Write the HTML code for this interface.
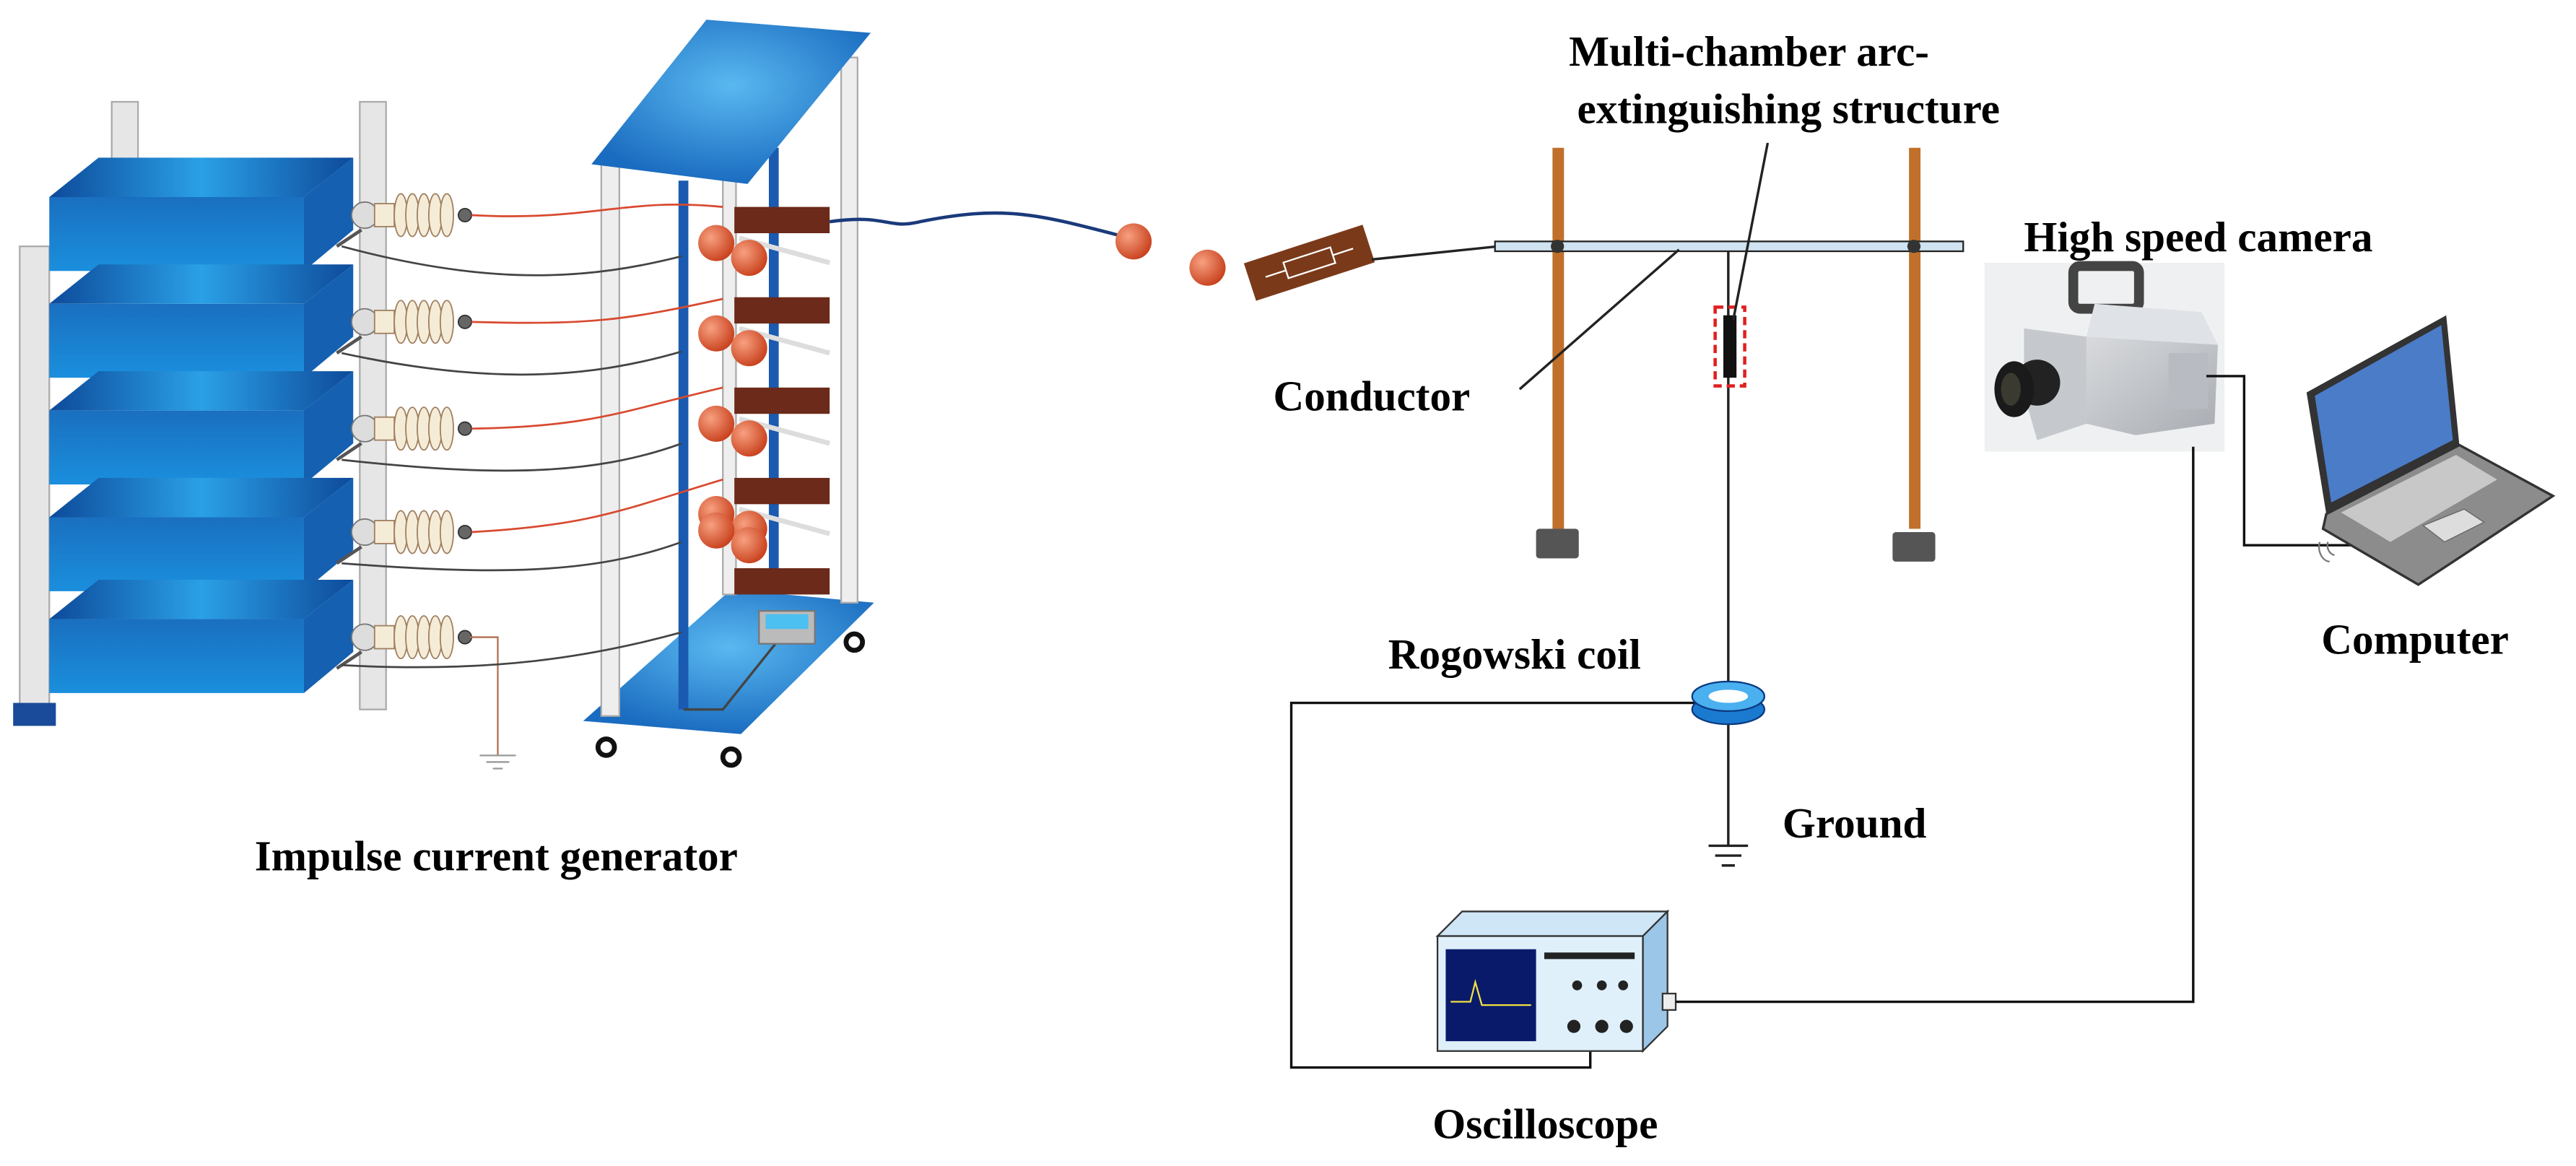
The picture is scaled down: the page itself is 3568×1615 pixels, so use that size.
<!DOCTYPE html>
<html><head><meta charset="utf-8"><style>html,body{margin:0;padding:0;background:#fff}svg{display:block}</style></head><body>
<svg width="3568" height="1615" viewBox="0 0 1568 710" preserveAspectRatio="none" xmlns="http://www.w3.org/2000/svg" font-family="Liberation Serif, serif" font-weight="bold">
<defs>
<linearGradient id="bf" x1="0" y1="0" x2="0" y2="1"><stop offset="0" stop-color="#1a6fc0"/><stop offset="1" stop-color="#1a8fdd"/></linearGradient>
<linearGradient id="bt" x1="0" y1="0" x2="1" y2="0"><stop offset="0" stop-color="#0d4a9a"/><stop offset="0.5" stop-color="#2aa0e6"/><stop offset="1" stop-color="#0d4a9a"/></linearGradient>
<radialGradient id="sp" cx="0.35" cy="0.35" r="0.7"><stop offset="0" stop-color="#f7a080"/><stop offset="1" stop-color="#c8401c"/></radialGradient>
<radialGradient id="pl" cx="0.5" cy="0.4" r="0.6"><stop offset="0" stop-color="#5ab8f0"/><stop offset="1" stop-color="#1a6cc0"/></radialGradient>
<linearGradient id="cam" x1="0" y1="0" x2="1" y2="1"><stop offset="0" stop-color="#d8dadd"/><stop offset="1" stop-color="#a8acb2"/></linearGradient>
</defs>
<!-- left stack posts -->
<rect x="12" y="150" width="18" height="285" fill="#e6e6e6" stroke="#aaa"/>
<rect x="8" y="428" width="26" height="14" fill="#1a4a9a"/>
<rect x="68" y="62" width="16" height="40" fill="#e6e6e6" stroke="#aaa"/>
<rect x="219" y="62" width="16" height="370" fill="#e6e6e6" stroke="#aaa"/>
<!-- layers -->
<g id="L">
<polygon points="30,120 60,96 215,96 185,120" fill="url(#bt)"/>
<rect x="30" y="120" width="155" height="45" fill="url(#bf)"/>
<polygon points="185,120 215,96 215,140 185,165" fill="#1560b0"/>
</g>
<use href="#L" y="65"/><use href="#L" y="130"/><use href="#L" y="195"/><use href="#L" y="257"/>
<!-- insulators -->
<g id="I" fill="#f5ecd8" stroke="#a08060" stroke-width="0.8">
<circle cx="222" cy="131" r="8" fill="#ddd" stroke="#777"/>
<rect x="228" y="124" width="12" height="14"/>
<ellipse cx="244" cy="131" rx="4" ry="13"/><ellipse cx="251" cy="131" rx="4" ry="13"/><ellipse cx="258" cy="131" rx="4" ry="13"/><ellipse cx="265" cy="131" rx="4" ry="13"/><ellipse cx="272" cy="131" rx="4" ry="13"/>
<circle cx="283" cy="131" r="4" fill="#666" stroke="#333"/>
<line x1="205" y1="150" x2="220" y2="140" stroke="#555" stroke-width="2"/>
</g>
<use href="#I" y="65"/><use href="#I" y="130"/><use href="#I" y="193"/><use href="#I" y="257"/>
<!-- ground at left -->
<path d="M286,388 H303 V460" stroke="#b07050" fill="none"/>
<path d="M292,460 H314 M296,464 H310 M300,468 H306" stroke="#999"/>
<!-- tower -->
<polygon points="355,439 445,359 532,367 451,447" fill="url(#pl)"/>
<rect x="366" y="100" width="11" height="336" fill="#eee" stroke="#aaa"/>
<rect x="512" y="35" width="10" height="332" fill="#eee" stroke="#aaa"/>
<rect x="440" y="100" width="8" height="262" fill="#eee" stroke="#aaa"/>
<rect x="413" y="110" width="6" height="322" fill="#1a5ab0"/>
<rect x="468" y="90" width="6" height="272" fill="#1a5ab0"/>
<path d="M416,432 H440 L472,392" stroke="#444" stroke-width="1.5" fill="none"/>
<polygon points="360,100 430,12 530,20 455,112" fill="url(#pl)"/>
<rect x="462" y="372" width="34" height="20" fill="#bbb" stroke="#777"/><rect x="466" y="374" width="26" height="9" fill="#4cc0f0"/>
<g fill="#fff" stroke="#111" stroke-width="3"><circle cx="369" cy="455" r="5"/><circle cx="445" cy="461" r="5"/><circle cx="520" cy="391" r="5"/></g>
<!-- resistors & spheres -->
<g id="R">
<rect x="447" y="126" width="58" height="16" fill="#6b2a1a"/>
<line x1="450" y1="145" x2="505" y2="160" stroke="#ddd" stroke-width="3"/>
<circle cx="436" cy="148" r="11" fill="url(#sp)"/>
<circle cx="456" cy="157" r="11" fill="url(#sp)"/>
</g>
<use href="#R" y="55"/><use href="#R" y="110"/><use href="#R" y="165"/>
<g transform="translate(0,220)"><rect x="447" y="126" width="58" height="16" fill="#6b2a1a"/><circle cx="436" cy="103" r="11" fill="url(#sp)"/><circle cx="456" cy="112" r="11" fill="url(#sp)"/></g>
<!-- wires -->
<g fill="none" stroke-width="1.2">
<g stroke="#d84a30">
<path d="M287,131 C360,135 380,120 440,126"/>
<path d="M287,196 C360,198 380,195 440,182"/>
<path d="M287,261 C360,260 380,250 440,236"/>
<path d="M287,324 C360,320 380,310 440,292"/>
</g>
<g stroke="#444">
<path d="M208,150 C300,175 360,170 415,156"/>
<path d="M208,215 C300,235 360,230 415,214"/>
<path d="M208,280 C300,290 360,290 415,270"/>
<path d="M208,343 C300,350 360,350 415,330"/>
<path d="M208,405 C300,410 360,400 415,385"/>
</g>
<path d="M505,135 C540,130 540,140 560,135 C610,125 630,130 680,143" stroke="#1a3a7a" stroke-width="2"/>
</g>
<circle cx="690" cy="147" r="11" fill="url(#sp)"/>
<circle cx="735" cy="163" r="11" fill="url(#sp)"/>
<g transform="translate(797,160) rotate(-18)"><rect x="-38" y="-12" width="76" height="24" fill="#7a3a1a"/><rect x="-15" y="-5" width="30" height="10" fill="none" stroke="#fff"/><path d="M-28,0 H-15 M15,0 H28" stroke="#fff"/></g>
<line x1="835" y1="158" x2="912" y2="150" stroke="#222" stroke-width="1.5"/>
<!-- poles -->
<rect x="945" y="90" width="7" height="232" fill="#c0702a"/>
<rect x="1162" y="90" width="7" height="232" fill="#c0702a"/>
<rect x="935" y="322" width="26" height="18" fill="#555" rx="2"/>
<rect x="1152" y="324" width="26" height="18" fill="#555" rx="2"/>
<rect x="910" y="147" width="285" height="6" fill="#cfe3f0" stroke="#222"/>
<circle cx="948" cy="150" r="4" fill="#333"/><circle cx="1165" cy="150" r="4" fill="#333"/>
<line x1="1052" y1="153" x2="1052" y2="515" stroke="#222" stroke-width="1.5"/>
<rect x="1044" y="187" width="18" height="48" fill="none" stroke="#e02020" stroke-width="2" stroke-dasharray="5,3"/>
<rect x="1049" y="192" width="8" height="38" fill="#111"/>
<line x1="1076" y1="87" x2="1055" y2="195" stroke="#222" stroke-width="1.5"/>
<line x1="925" y1="237" x2="1022" y2="152" stroke="#222" stroke-width="1.5"/>
<path d="M1040,515 H1064 M1044,521 H1060 M1048,527 H1056" stroke="#222" stroke-width="1.5"/>
<!-- rogowski -->
<path d="M1052,428 H786 V650 H968 V632" fill="none" stroke="#111" stroke-width="1.5"/>
<ellipse cx="1052" cy="432" rx="22" ry="9" fill="#1a7ad0" stroke="#0a3a80"/>
<ellipse cx="1052" cy="424" rx="22" ry="9" fill="#4ab0f0" stroke="#0a3a80"/>
<ellipse cx="1052" cy="424" rx="12" ry="4" fill="#fff"/>
<!-- oscilloscope -->
<polygon points="875,570 890,555 1015,555 1000,570" fill="#cfe6f6" stroke="#333"/>
<polygon points="1000,570 1015,555 1015,625 1000,640" fill="#9cc6e8" stroke="#333"/>
<rect x="875" y="570" width="125" height="70" fill="#dff0fb" stroke="#333"/>
<rect x="880" y="578" width="55" height="56" fill="#0a1a6a"/>
<path d="M883,610 H895 L898,598 L902,612 H932" stroke="#f0e040" fill="none"/>
<g fill="#222"><rect x="940" y="580" width="55" height="4"/><circle cx="960" cy="600" r="3"/><circle cx="975" cy="600" r="3"/><circle cx="988" cy="600" r="3"/><circle cx="958" cy="625" r="4"/><circle cx="975" cy="625" r="4"/><circle cx="990" cy="625" r="4"/></g>
<rect x="1012" y="605" width="8" height="10" fill="#eee" stroke="#333"/>
<!-- camera -->
<rect x="1208" y="160" width="146" height="115" fill="#eef0f2"/>
<rect x="1262" y="162" width="40" height="26" fill="none" stroke="#444" stroke-width="6" rx="4"/>
<polygon points="1275,185 1340,190 1350,210 1270,205" fill="#dfe2e6"/>
<polygon points="1270,205 1350,210 1348,258 1300,265 1270,258" fill="url(#cam)"/>
<polygon points="1232,200 1270,205 1270,258 1240,268 1232,240" fill="#c5c8cc"/>
<rect x="1320" y="215" width="24" height="34" fill="#b8bcc2"/>
<circle cx="1240" cy="233" r="14" fill="#222"/>
<ellipse cx="1226" cy="237" rx="12" ry="17" fill="#1a1a1a"/><ellipse cx="1224" cy="237" rx="6" ry="10" fill="#3a3a30"/>
<path d="M1020,610 H1335 V272" fill="none" stroke="#111" stroke-width="1.5"/>
<path d="M1343,229 H1366 V332 H1438" fill="none" stroke="#111" stroke-width="1.5"/>
<!-- laptop -->
<polygon points="1404,239 1489,192 1497,271 1416,313" fill="#333"/>
<polygon points="1409,241 1486,198 1493,268 1419,306" fill="#4a7cc8"/>
<polygon points="1416,313 1497,271 1554,302 1472,356 1414,322" fill="#8c8c8c" stroke="#333" stroke-width="1.5"/>
<polygon points="1425,312 1495,277 1520,292 1455,330" fill="#c8c8c8"/>
<polygon points="1475,320 1500,310 1512,318 1488,330" fill="#ddd" stroke="#666" stroke-width="0.6"/>
<path d="M1412,330 a7,9 0 0 0 6,12 M1417,330 a5,6 0 0 0 4,8" fill="none" stroke="#777"/>
<!-- labels -->
<g font-size="26" fill="#000">
<text x="155" y="530">Impulse current generator</text>
<text x="955" y="40">Multi-chamber arc-</text>
<text x="960" y="75">extinguishing structure</text>
<text x="1232" y="153">High speed camera</text>
<text x="775" y="250">Conductor</text>
<text x="1413" y="398">Computer</text>
<text x="845" y="407">Rogowski coil</text>
<text x="1085" y="510">Ground</text>
<text x="872" y="693">Oscilloscope</text>
</g>
</svg>
</body></html>
